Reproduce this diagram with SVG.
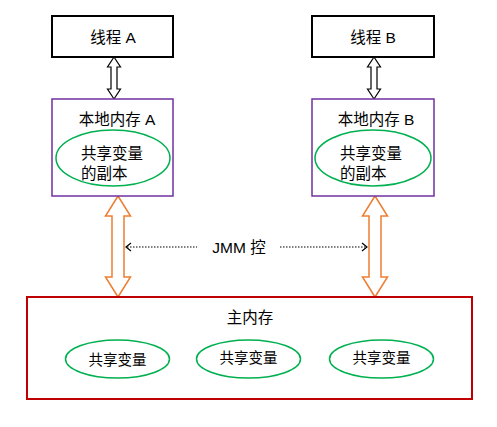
<svg xmlns="http://www.w3.org/2000/svg" width="497" height="427" viewBox="0 0 497 427">
<defs>
<style>
text{font-family:"Liberation Sans","Noto Sans CJK SC",sans-serif;fill:#000;text-anchor:middle;dominant-baseline:central}
.t{font-size:15.5px}
.s{font-size:14.5px}
.thread{fill:#fff;stroke:#000;stroke-width:2}
.local{fill:#fff;stroke:#7030A0;stroke-width:1.5}
.main{fill:#fff;stroke:#C00000;stroke-width:2}
.var{fill:#fff;stroke:#00B050;stroke-width:1.5}
.blk{fill:#fff;stroke:#000;stroke-width:1.2}
.org{fill:#fff;stroke:#ED7D31;stroke-width:1.5}
.dot{fill:none;stroke:#000;stroke-width:1;stroke-dasharray:1.5 1.5}
.dh{fill:none;stroke:#000;stroke-width:1.2}
</style>
</defs>
<g id="connectors">
<path class="blk" d="M114,57 L120.5,67 L117,67 L117,89 L120.5,89 L114,99 L107.5,89 L111,89 L111,67 L107.5,67 Z"/>
<path class="blk" d="M374,57 L380.5,67 L377,67 L377,89 L380.5,89 L374,99 L367.5,89 L371,89 L371,67 L367.5,67 Z"/>
<path class="org" d="M118,196 L130.5,216 L124,216 L124,277 L130.5,277 L118,297 L105.5,277 L112,277 L112,216 L105.5,216 Z"/>
<path class="org" d="M375,196 L387.5,216 L381,216 L381,277 L387.5,277 L375,297 L362.5,277 L369,277 L369,216 L362.5,216 Z"/>
<line class="dot" x1="127" y1="247" x2="197" y2="247"/>
<path class="dh" d="M131,243 L126,247 L131,251"/>
<line class="dot" x1="280" y1="247" x2="366" y2="247"/>
<path class="dh" d="M362,243 L367,247 L362,251"/>
<text class="t" x="239" y="247">JMM 控</text>
</g>
<g id="threadA">
<rect class="thread" x="52" y="16" width="121" height="41"/>
<text class="t" x="113" y="37">线程 A</text>
</g>
<g id="threadB">
<rect class="thread" x="312" y="16" width="122" height="41"/>
<text class="t" x="373" y="37">线程 B</text>
</g>
<g id="localA">
<rect class="local" x="52" y="99" width="121" height="97"/>
<text class="t" x="117" y="119">本地内存 A</text>
<ellipse class="var" cx="113" cy="158" rx="57" ry="28"/>
<text class="t" x="81" y="153" style="text-anchor:start">共享变量</text>
<text class="t" x="81" y="173" style="text-anchor:start">的副本</text>
</g>
<g id="localB">
<rect class="local" x="312" y="99" width="122" height="97"/>
<text class="t" x="376" y="119">本地内存 B</text>
<ellipse class="var" cx="373" cy="158" rx="58" ry="28"/>
<text class="t" x="340" y="153" style="text-anchor:start">共享变量</text>
<text class="t" x="340" y="173" style="text-anchor:start">的副本</text>
</g>
<g id="mainMemory">
<rect class="main" x="27" y="297" width="445" height="102"/>
<text class="t" x="250" y="317">主内存</text>
</g>
<g id="var1">
<ellipse class="var" cx="117.5" cy="359" rx="52" ry="19"/>
<text class="s" x="117.5" y="360">共享变量</text>
</g>
<g id="var2">
<ellipse class="var" cx="248.5" cy="359" rx="52" ry="19"/>
<text class="s" x="248.5" y="358">共享变量</text>
</g>
<g id="var3">
<ellipse class="var" cx="381.5" cy="359" rx="52" ry="19"/>
<text class="s" x="381.5" y="358">共享变量</text>
</g>
</svg>
